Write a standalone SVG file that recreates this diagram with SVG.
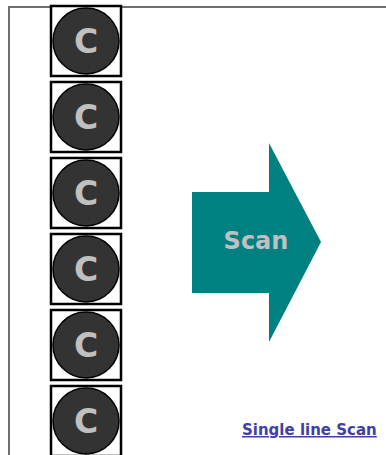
<svg xmlns="http://www.w3.org/2000/svg" width="386" height="455" viewBox="0 0 386 455">
  <style>
    .frame { fill: none; stroke: #6e6e6e; stroke-width: 2; }
    .cell { fill: #ffffff; stroke: #000000; stroke-width: 2.5; }
    .disc { fill: #333333; stroke: #000000; stroke-width: 1.5; }
    .letter { font-family: "DejaVu Sans", Verdana, sans-serif; font-weight: bold; font-size: 33px; fill: #c0c0c0; text-anchor: middle; }
    .arrow { fill: #008080; }
    .arrow-label { font-family: "DejaVu Sans", Verdana, sans-serif; font-weight: bold; font-size: 24px; fill: #c0c0c0; text-anchor: middle; }
    .link { font-family: "DejaVu Sans", Verdana, sans-serif; font-weight: bold; font-size: 15px; fill: #3f3fa6; text-decoration: underline; }
  </style>
  <defs>
    <g id="cell-c">
      <rect class="cell" x="51" y="0" width="70" height="70"/>
      <circle class="disc" cx="86" cy="35" r="33"/>
      <text class="letter" x="86" y="47">C</text>
    </g>
  </defs>

  <!-- page frame -->
  <path class="frame" d="M386 7 H9 V455"/>

  <g id="node-1"><use href="#cell-c" y="6"/></g>
  <g id="node-2"><use href="#cell-c" y="82"/></g>
  <g id="node-3"><use href="#cell-c" y="158"/></g>
  <g id="node-4"><use href="#cell-c" y="234"/></g>
  <g id="node-5"><use href="#cell-c" y="310"/></g>
  <g id="node-6"><use href="#cell-c" y="386"/></g>

  <g id="connectors">
    <g id="scan-arrow">
      <polygon class="arrow" points="192,192 269,192 269,143 321,242 269,342 269,293 192,293"/>
      <text class="arrow-label" x="256" y="249">Scan</text>
    </g>
  </g>

  <g id="link">
    <text class="link" x="242" y="435">Single line Scan</text>
  </g>
</svg>
